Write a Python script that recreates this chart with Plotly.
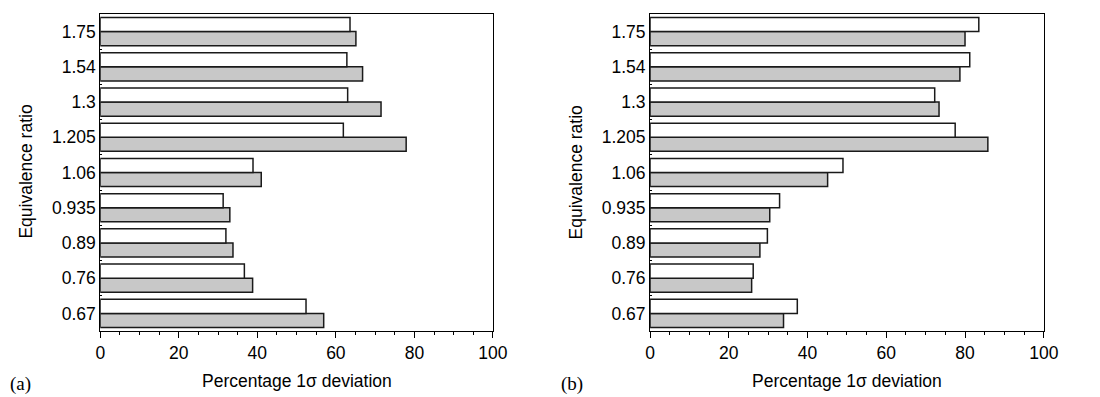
import plotly.graph_objects as go

# Equivalence ratios (categories, bottom to top)
phi = ["0.67", "0.76", "0.89", "0.935", "1.06", "1.205", "1.3", "1.54", "1.75"]

# Panel (a): percentage 1-sigma deviation
a_open = [52.4, 36.7, 32.0, 31.3, 38.9, 61.9, 63.0, 62.8, 63.6]
a_shaded = [56.9, 38.8, 33.8, 33.0, 41.0, 77.9, 71.5, 66.8, 65.1]

# Panel (b): percentage 1-sigma deviation
b_open = [37.4, 26.2, 29.8, 32.9, 49.0, 77.5, 72.3, 81.2, 83.5]
b_shaded = [33.9, 25.8, 27.9, 30.4, 45.1, 85.8, 73.4, 78.7, 80.0]

x_ticks = [0, 20, 40, 60, 80, 100]

FONT = "Liberation Sans, Arial, Helvetica, sans-serif"
SERIF = "Liberation Serif, Times New Roman, serif"
FS = 17.5

fig = go.Figure()

panels = [
    ("x", "y", a_shaded, a_open),
    ("x2", "y2", b_shaded, b_open),
]
for xa, ya, shaded, opn in panels:
    # shaded bar first so it sits below the open one within each group
    fig.add_trace(go.Bar(
        y=phi, x=shaded, orientation="h", xaxis=xa, yaxis=ya,
        marker=dict(color="#c8c8c8", line=dict(color="#1a1a1a", width=1.5)),
        showlegend=False, hoverinfo="x+y",
    ))
    fig.add_trace(go.Bar(
        y=phi, x=opn, orientation="h", xaxis=xa, yaxis=ya,
        marker=dict(color="white", line=dict(color="#1a1a1a", width=1.5)),
        showlegend=False, hoverinfo="x+y",
    ))

xaxis_common = dict(
    range=[0, 100], tickvals=x_ticks, ticks="outside", ticklen=6, tickwidth=1,
    tickcolor="black", showline=True, linecolor="black", linewidth=1,
    mirror=True, showgrid=False, zeroline=False,
    tickfont=dict(family=FONT, size=FS, color="black"),
    minor=dict(dtick=5, tick0=0, ticks="outside", ticklen=3, tickcolor="black",
               showgrid=False),
    fixedrange=True,
)
yaxis_common = dict(
    type="category", categoryorder="array", categoryarray=phi,
    ticks="inside", ticklen=2, tickcolor="black", tickson="boundaries",
    showline=True, linecolor="black", linewidth=1, mirror=True,
    showgrid=False, zeroline=False,
    tickfont=dict(family=FONT, size=FS, color="black"),
    fixedrange=True,
)

y_dom = [1 - 331 / 397, 1 - 14 / 397]

fig.update_layout(
    width=1100, height=397,
    margin=dict(l=0, r=0, t=0, b=0),
    paper_bgcolor="white", plot_bgcolor="white",
    barmode="group", bargap=0.2, bargroupgap=0,
    xaxis=dict(domain=[97 / 1100, 497 / 1100], anchor="y", **xaxis_common),
    yaxis=dict(domain=y_dom, anchor="x", **yaxis_common),
    xaxis2=dict(domain=[657 / 1100, 1058 / 1100], anchor="y2", **xaxis_common),
    yaxis2=dict(domain=y_dom, anchor="x2", **yaxis_common),
)

title_y = 1 - 381 / 397
ann = [
    dict(text="Percentage 1σ deviation", x=(97 + 497) / 2 / 1100, y=title_y,
         font=dict(family=FONT, size=FS)),
    dict(text="Percentage 1σ deviation", x=(657 + 1058) / 2 / 1100, y=title_y,
         font=dict(family=FONT, size=FS)),
    dict(text="Equivalence ratio", x=21 / 1100, y=1 - 172 / 397, textangle=-90,
         font=dict(family=FONT, size=FS)),
    dict(text="Equivalence ratio", x=582 / 1100, y=1 - 172 / 397, textangle=-90,
         font=dict(family=FONT, size=FS)),
    dict(text="(a)", x=16 / 1100, y=1 - 384 / 397, font=dict(family=SERIF, size=19)),
    dict(text="(b)", x=577 / 1100, y=1 - 384 / 397, font=dict(family=SERIF, size=19)),
]
for a in ann:
    a.update(xref="paper", yref="paper", showarrow=False,
             xanchor="center", yanchor="middle")
    a["font"]["color"] = "black"
fig.update_layout(annotations=ann)

fig.write_html("out.html")
